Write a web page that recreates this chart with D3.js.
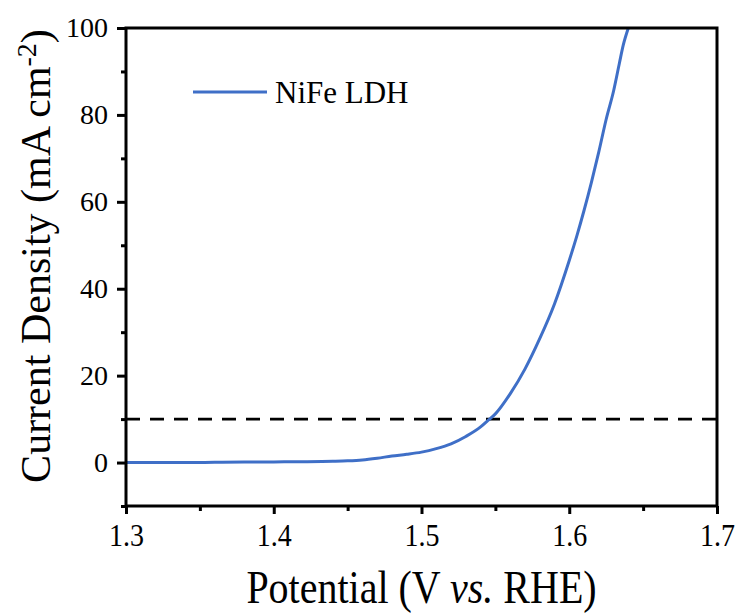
<!DOCTYPE html>
<html>
<head>
<meta charset="utf-8">
<script src="https://cdn.jsdelivr.net/npm/d3@7/dist/d3.min.js"></script>
<style>
  html, body { margin: 0; padding: 0; background: #fff; }
  svg { display: block; }
  svg text { font-family: "Liberation Serif", "Times New Roman", serif; fill: #000; }
</style>
</head>
<body>
<svg id="chart" width="743" height="616"></svg>
<script>
// Polarization curve of NiFe LDH (LSV), potential vs. current density
const potential = [1.300, 1.320, 1.340, 1.360, 1.380, 1.400, 1.420, 1.440, 1.450, 1.460,
                   1.470, 1.480, 1.490, 1.500, 1.510, 1.520, 1.530, 1.540, 1.545, 1.550,
                   1.560, 1.570, 1.580, 1.590, 1.600, 1.605, 1.610, 1.615, 1.620, 1.625,
                   1.630, 1.634, 1.6365, 1.640];
const currentDensity = [0.0, 0.0, 0.0, 0.05, 0.1, 0.15, 0.2, 0.3, 0.4, 0.6,
                        1.0, 1.5, 1.9, 2.4, 3.2, 4.3, 6.0, 8.2, 9.7, 11.2,
                        15.8, 21.5, 28.5, 36.5, 46.5, 52.0, 58.0, 64.5, 71.5, 79.0,
                        85.5, 92.0, 96.0, 100.0];
const seriesName = "NiFe LDH";
const referenceLevel = 10;            // 10 mA cm-2 benchmark
const xTicks = [1.3, 1.4, 1.5, 1.6, 1.7];
const xMinorTicks = [1.35, 1.45, 1.55, 1.65];
const yTicks = [0, 20, 40, 60, 80, 100];
const yMinorTicks = [-10, 10, 30, 50, 70, 90];

const serif = "'Liberation Serif', 'Times New Roman', serif";
const svg = d3.select("#chart");
const m = { left: 126, right: 717, top: 28, bottom: 506 };

const x = d3.scaleLinear().domain([1.3, 1.7]).range([m.left, m.right]);
const y = d3.scaleLinear().domain([-10, 100]).range([m.bottom, m.top]);

const lineColor = "#3f6fc7";

// reference dashed line at 10 mA cm-2
svg.append("line")
  .attr("x1", x(1.3)).attr("x2", x(1.7))
  .attr("y1", y(referenceLevel)).attr("y2", y(referenceLevel))
  .attr("stroke", "#000").attr("stroke-width", 2.6)
  .attr("stroke-dasharray", "14,10");

// data curve
const pts = potential.map((v, i) => [v, currentDensity[i]]);
svg.append("path")
  .datum(pts)
  .attr("fill", "none")
  .attr("stroke", lineColor)
  .attr("stroke-width", 3)
  .attr("stroke-linejoin", "round")
  .attr("d", d3.line().x(d => x(d[0])).y(d => y(d[1])).curve(d3.curveMonotoneX));

// axes
const fmtX = d3.format(".1f");
const xAxis = svg.append("g").attr("transform", `translate(0,${m.bottom})`);
xAxis.call(d3.axisBottom(x).tickValues(xTicks).tickFormat(fmtX).tickSize(8).tickPadding(8));
const xMinor = svg.append("g").attr("transform", `translate(0,${m.bottom})`);
xMinor.call(d3.axisBottom(x).tickValues(xMinorTicks).tickFormat("").tickSize(5));
const yAxis = svg.append("g").attr("transform", `translate(${m.left},0)`);
yAxis.call(d3.axisLeft(y).tickValues(yTicks).tickSize(9).tickPadding(9));
const yMinor = svg.append("g").attr("transform", `translate(${m.left},0)`);
yMinor.call(d3.axisLeft(y).tickValues(yMinorTicks).tickFormat("").tickSize(5));

[xAxis, xMinor, yAxis, yMinor].forEach(g => {
  g.attr("font-family", serif).attr("font-size", 28);
  g.select(".domain").remove();
  g.selectAll(".tick line").attr("stroke", "#000").attr("stroke-width", 3);
  g.selectAll(".tick text")
    .style("font-family", serif)
    .style("font-size", "28px")
    .attr("fill", "#000");
});
// x labels: taller, slightly condensed look
xAxis.selectAll(".tick text")
  .attr("y", 0).attr("dy", 0)
  .attr("transform", "translate(0,40) scale(1,1.15)");

// frame
svg.append("rect")
  .attr("x", m.left).attr("y", m.top)
  .attr("width", m.right - m.left).attr("height", m.bottom - m.top)
  .attr("fill", "none").attr("stroke", "#000").attr("stroke-width", 3);

// legend
svg.append("line")
  .attr("x1", 193).attr("x2", 267).attr("y1", 92).attr("y2", 92)
  .attr("stroke", lineColor).attr("stroke-width", 3);
svg.append("text").attr("x", 275).attr("y", 103)
  .style("font-family", serif).style("font-size", "31px").text(seriesName);

// axis titles
svg.append("text")
  .attr("transform", `translate(${(m.left + m.right) / 2},603) scale(1,1.18)`)
  .attr("text-anchor", "middle")
  .style("font-family", serif).style("font-size", "40px")
  .call(t => {
    t.append("tspan").text("Potential (V ");
    t.append("tspan").attr("font-style", "italic").text("vs.");
    t.append("tspan").text(" RHE)");
  });

svg.append("text")
  .attr("transform", "translate(50,256) rotate(-90)")
  .attr("text-anchor", "middle")
  .style("font-family", serif).style("font-size", "42px")
  .call(t => {
    t.append("tspan").text("Current Density (mA cm");
    t.append("tspan").attr("dy", "-0.5em").style("font-size", "28px").text("-2");
    t.append("tspan").attr("dy", "0.34em").text(")");
  });
</script>
</body>
</html>
